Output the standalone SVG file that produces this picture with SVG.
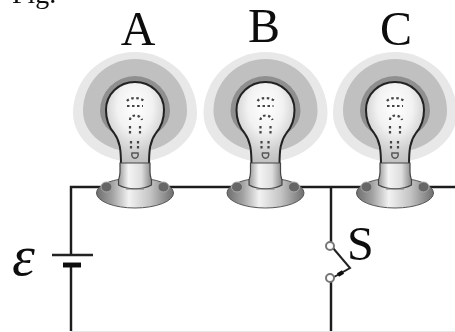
<svg xmlns="http://www.w3.org/2000/svg" xmlns:xlink="http://www.w3.org/1999/xlink" width="455" height="332" viewBox="0 0 455 332">
<style>
text{font-family:"Liberation Serif","Times New Roman",serif;fill:#111}
.label{font-size:48px;text-anchor:middle}
.wire{fill:none;stroke:#1c1c1c;stroke-width:2.4}
.term{fill:#fff;stroke:#777;stroke-width:2}
.fil{fill:none;stroke:#444;stroke-width:2.2;stroke-dasharray:2.5 2.5}
</style>
<defs>
<filter id="soft" x="-5%" y="-5%" width="110%" height="110%"><feGaussianBlur stdDeviation="0.5"/></filter>
<linearGradient id="metal" x1="0" x2="1" y1="0" y2="0">
<stop offset="0" stop-color="#6e6e6e"/><stop offset="0.2" stop-color="#a0a0a0"/><stop offset="0.42" stop-color="#f2f2f2"/><stop offset="0.7" stop-color="#c4c4c4"/><stop offset="1" stop-color="#6e6e6e"/>
</linearGradient>
<linearGradient id="collar" x1="0" x2="1" y1="0" y2="0">
<stop offset="0" stop-color="#999"/><stop offset="0.3" stop-color="#f4f4f4"/><stop offset="0.7" stop-color="#ddd"/><stop offset="1" stop-color="#888"/>
</linearGradient>
<radialGradient id="glass" cx="0.5" cy="0.3" r="0.72">
<stop offset="0" stop-color="#fff"/><stop offset="0.42" stop-color="#f2f2f2"/><stop offset="0.75" stop-color="#cfcfcf"/><stop offset="1" stop-color="#bdbdbd"/>
</radialGradient>
<g id="bulb">
<path d="M-62 113A62 61 0 0 1 62 113A62 49 0 0 1-62 113Z" fill="#e8e8e8"/>
<path d="M-52 111A52 52 0 0 1 52 111A52 41 0 0 1-52 111Z" fill="#c0c0c0"/>
<path d="M-35 111A35 35 0 0 1 35 111A35 28 0 0 1-35 111Z" fill="#8f8f8f"/>
<path d="M-14 165C-14 150-15 141-21 133C-27 126-29 118-29 110C-29 94-16 82 0 82C16 82 29 94 29 110C29 118 27 126 21 133C15 141 14 150 14 165Z" fill="url(#glass)" stroke="#222" stroke-width="2"/>
<path class="fil" d="M-8 101C-5 97 5 97 9 101M-8 106H8M-5 120C-5 114 5 114 7 120M-5 126V136M5 126V136M-4 141V149M3 141V149"/>
<path d="M-3 153C-5 160 5 160 3 153Z" fill="none" stroke="#555" stroke-width="1.500"/>
<ellipse cx="0" cy="193" rx="38.500" ry="15" fill="url(#metal)" stroke="#555" stroke-width="1"/>
<path d="M-15 163H15V172C15 176 16 178 16.500 180V185C8 190-8 190-16.500 185V180C-16 178-15 176-15 172Z" fill="url(#collar)" stroke="#444" stroke-width="1.200"/>
<path d="M-9 189H9" stroke="#777" stroke-width="1" fill="none"/>
<ellipse cx="-28.500" cy="187" rx="5.500" ry="5" fill="#666" stroke="#aaa"/>
<ellipse cx="28.500" cy="187" rx="5.500" ry="5" fill="#666" stroke="#aaa"/>
</g>
</defs>
<g filter="url(#soft)">
<text x="12" y="3" style="font-size:28px">Fig.</text>
<g id="connectors">
<path class="wire" d="M104 187H71V255M71 265V331M166 187H235M296 187H365M425 187H455M331 187V246M331 278V331"/>
<path d="M71 331.500H455" stroke="#e6e6e6" stroke-width="1"/>
</g>
<g id="bulb-a"><use href="#bulb" x="135" y="0"/><text class="label" x="138" y="45">A</text></g>
<g id="bulb-b"><use href="#bulb" x="265.500" y="0"/><text class="label" x="264" y="42">B</text></g>
<g id="bulb-c"><use href="#bulb" x="395" y="0"/><text class="label" x="396" y="45">C</text></g>
<g id="battery">
<path d="M52 255H93" stroke="#222" stroke-width="2.400"/>
<path d="M63 265H81" stroke="#111" stroke-width="5"/>
<text x="12" y="275" style="font-size:58px;font-style:italic">ε</text>
</g>
<g id="switch">
<path d="M333 248L350 268L334 277" fill="none" stroke="#222" stroke-width="2"/>
<path d="M338 275L343 272" stroke="#111" stroke-width="4"/>
<circle class="term" cx="330" cy="246" r="4"/>
<circle class="term" cx="330" cy="278" r="4"/>
<text x="347" y="260" style="font-size:48px">S</text>
</g>
</g>
</svg>
